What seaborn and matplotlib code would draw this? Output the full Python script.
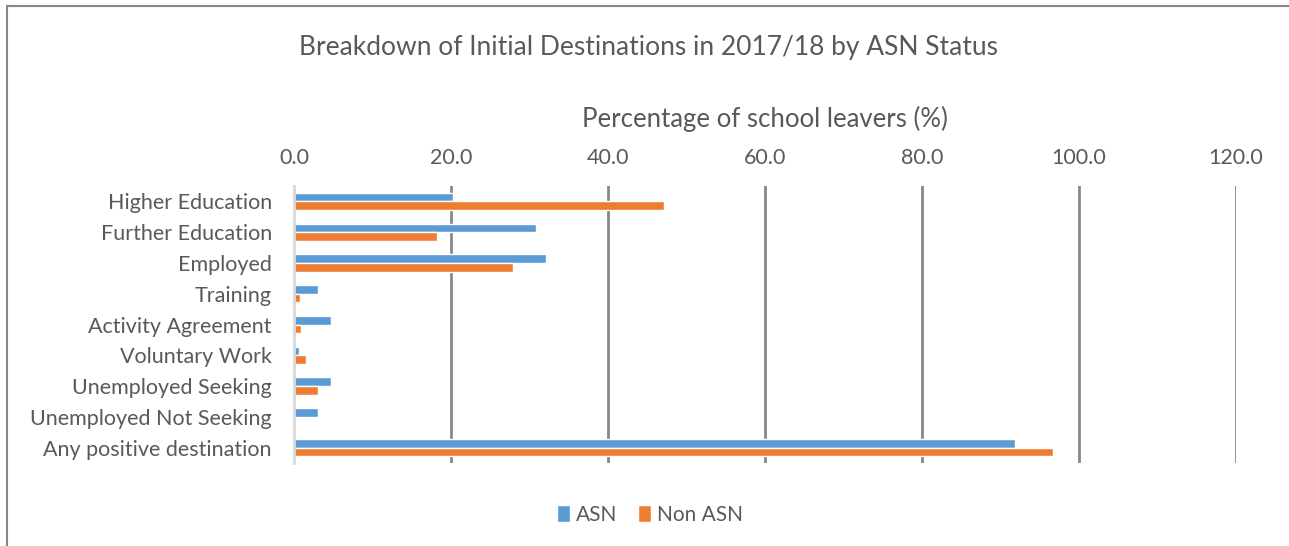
import numpy as np
import pandas as pd
import matplotlib
matplotlib.use("Agg")
import matplotlib.pyplot as plt
import seaborn as sns
from matplotlib.patches import Rectangle

categories = ["Higher Education", "Further Education", "Employed", "Training",
              "Activity Agreement", "Voluntary Work", "Unemployed Seeking",
              "Unemployed Not Seeking", "Any positive destination"]
asn = [20.3, 30.8, 32.1, 3.1, 4.7, 0.6, 4.7, 3.1, 91.9]
non_asn = [47.1, 18.2, 27.9, 0.8, 0.9, 1.5, 3.0, 0.1, 96.7]
series = ["ASN", "Non ASN"]
colors = ["#5B9BD5", "#ED7D31"]
xticks = [0, 20, 40, 60, 80, 100, 120]

df = pd.DataFrame({
    "Destination": categories * 2,
    "Percent": asn + non_asn,
    "Group": [series[0]] * len(categories) + [series[1]] * len(categories),
})

sns.set_style("white")
plt.rcParams["font.family"] = ["Lato", "DejaVu Sans"]
txt = "#595959"

fig = plt.figure(figsize=(12.89, 5.46), dpi=100)
ax = fig.add_axes([0.2281, 0.152, 0.7308, 0.5073])

sns.barplot(data=df, y="Destination", x="Percent", hue="Group", orient="h",
            palette=colors, width=0.56, saturation=1, ax=ax, legend=True)

ax.set_xlim(0, 120)
ax.set_ylim(len(categories) - 0.5, -0.5)
ax.set_xticks(xticks)
ax.set_xticklabels([f"{v:.1f}" for v in xticks], fontsize=15.5, color=txt)
ax.xaxis.tick_top()
ax.xaxis.set_label_position("top")
ax.tick_params(axis="x", length=0, pad=13)
ax.tick_params(axis="y", length=0, pad=16, labelsize=15.5, labelcolor=txt)
ax.set_xlabel("Percentage of school leavers (%)", fontsize=18.5, color=txt, labelpad=15)
ax.set_ylabel("")
for v in xticks[1:]:
    ax.axvline(v, color="#878787", lw=2, zorder=0)
for s in ["top", "right", "bottom"]:
    ax.spines[s].set_visible(False)
ax.spines["left"].set_color("#D9D9D9")
ax.spines["left"].set_linewidth(2)

h, l = ax.get_legend_handles_labels()
ax.legend(h, l, loc="center", bbox_to_anchor=(650 / 1289, 1 - 515 / 546),
          bbox_transform=fig.transFigure, ncol=2, frameon=False, fontsize=15,
          handlelength=0.6, handleheight=0.9, handletextpad=0.3, columnspacing=1.0,
          labelcolor=txt)

fig.text(649 / 1289, 1 - 47 / 546, "Breakdown of Initial Destinations in 2017/18 by ASN Status",
         ha="center", va="center", fontsize=19, color=txt)

fig.patches.append(Rectangle((7 / 1289, -0.1), 1.2, 1 - 6 / 546 + 0.1,
                             transform=fig.transFigure, fill=False,
                             edgecolor="#878787", lw=1.5))

fig.savefig("out.png", dpi=100, facecolor="white")
